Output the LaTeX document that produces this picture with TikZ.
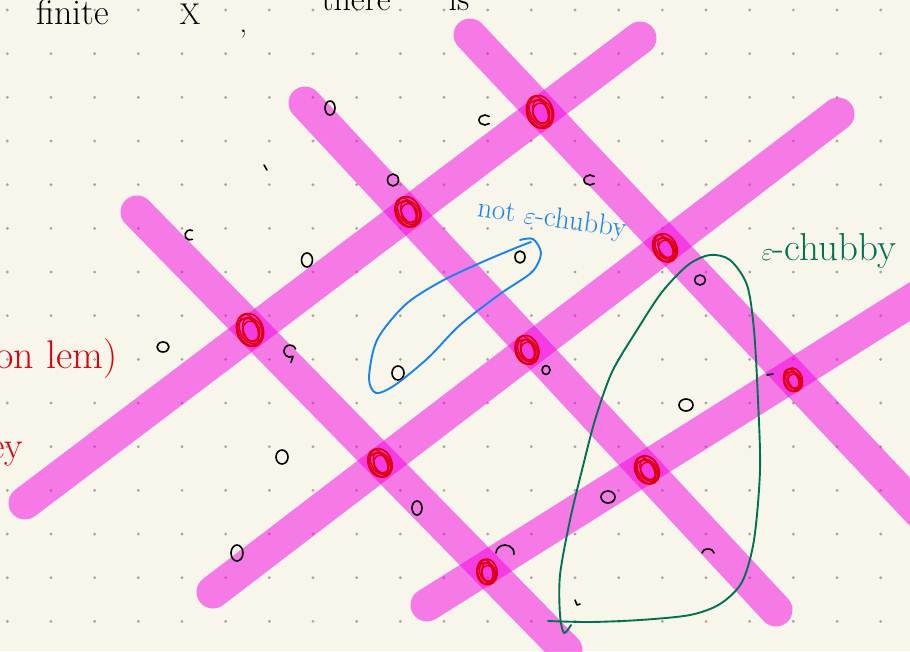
\documentclass[tikz,border=0pt]{standalone}
\definecolor{paper}{RGB}{248,246,234}
\definecolor{dotc}{RGB}{170,168,160}
\definecolor{mag}{RGB}{245,0,227}
\definecolor{scribred}{RGB}{222,0,12}
\definecolor{penblue}{RGB}{24,132,240}
\definecolor{pengreen}{RGB}{0,114,82}
\newcommand\rscrib[4]{%
  \begin{scope}[shift={(#1,#2)},rotate=#4]
    \draw[scr] (0,0) ellipse [x radius=#3*0.78, y radius=#3];
    \draw[scr] (1.4,-0.9) ellipse [x radius=#3*0.66, y radius=#3*0.92];
    \draw[scr] (-0.9,1.3) ellipse [x radius=#3*0.72, y radius=#3*0.84];
    \draw[scr] (0.4,0.3) ellipse [x radius=#3*0.42, y radius=#3*0.72];
    \draw[scr] (-1.6,-0.5) ellipse [x radius=#3*0.58, y radius=#3*0.96];
    \draw[scr] (0.8,1.5) ellipse [x radius=#3*0.5, y radius=#3*0.6];
  \end{scope}}
\begin{document}
\begin{tikzpicture}[x=1pt,y=-1pt,
  band/.style={line width=33pt, line cap=round, draw=mag, draw opacity=0.5},
  ink/.style={line width=1.6pt, line cap=round, line join=round, black},
  scr/.style={line width=1.4pt, scribred},
  blueink/.style={line width=1.9pt, line cap=round, line join=round, penblue},
  greenink/.style={line width=1.9pt, line cap=round, line join=round, pengreen},
  omark/.style={ink}]
\useasboundingbox (0,0) rectangle (910,651);
\clip (0,0) rectangle (910,651);
\fill[paper] (0,0) rectangle (910,651);
\foreach \i in {0,...,20}{\foreach \j in {0,...,14}{\fill[dotc] (7.3+43.67*\i,10+43.67*\j) circle (1.6);}}
% bands
\draw[band] (25,503) -- (640,38);
\draw[band] (213,592) -- (838,114);
\draw[band] (427,605) -- (960,270);
\draw[band] (137,212) -- (566,650);
\draw[band] (305,103) -- (776,610);
\draw[band] (470,35) -- (960,555);
% red scribbles at intersections
\rscrib{540}{112}{17}{20}
\rscrib{408}{212}{16}{25}
\rscrib{250}{330}{17}{20}
\rscrib{665}{248}{15}{30}
\rscrib{527}{350}{15}{20}
\rscrib{380}{463}{15}{25}
\rscrib{793}{380}{12}{20}
\rscrib{647}{470}{15}{30}
\rscrib{487}{572}{13}{10}
% black marks
\foreach \x/\y/\a/\b in {330/108/5/7, 393/180/5.5/6, 307/260/5.5/7, 520/257/5/6, 700/280/5.5/5, 163/347/6/5, 398/373/6/7, 686/405/7/6, 608/497/7/6, 417/508/5/7, 282/457/6/7, 237/553/6/8, 546/370/4/4.5}
  {\draw[omark] (\x,\y) ellipse [x radius=\a, y radius=\b];}
\draw[ink] (485,120) ++(45:6 and 5) arc [start angle=45, end angle=315, x radius=6, y radius=5];
\draw[ink] (590,180) ++(45:6 and 5) arc [start angle=45, end angle=315, x radius=6, y radius=5];
\draw[ink] (190,235) ++(60:5 and 5) arc [start angle=60, end angle=300, x radius=5, y radius=5];
\draw[ink] (290,347) ++(20:6 and 6) arc [start angle=-20, end angle=-300, x radius=6, y radius=6] -- ++(-2,6);
\draw[ink] (505,553) ++(180:9 and 8) arc [start angle=180, end angle=370, x radius=9, y radius=8];
\draw[ink] (708,553) ++(180:6 and 4) arc [start angle=180, end angle=360, x radius=6, y radius=4];
\draw[ink] (264,165) -- (267,170);
\draw[ink] (767,375) -- (773,374);
\draw[ink] (575,600) -- (577,605) -- (580,604);
% blue loop
\draw[blueink] plot[smooth] coordinates {(520,240) (533,239) (541,253) (532,272) (500,294) (460,325) (428,358) (395,385) (376,393) (369,378) (377,340) (405,305) (440,282) (480,263) (518,247) (531,242)};
\node[penblue, rotate=-8, anchor=base west, font=\fontsize{29}{29}\selectfont] (nc) at (473,216) {not $\varepsilon$-chubby};
% green loop
\draw[greenink] plot[smooth] coordinates {(548,621) (590,622) (640,620) (690,615) (720,604) (742,582) (754,540) (760,470) (758,400) (754,330) (747,285) (730,260) (710,255) (688,265) (662,292) (637,330) (612,372) (595,420) (582,470) (570,520) (560,575) (560,615) (564,633) (571,625)};
\node[pengreen, anchor=base west, font=\fontsize{39}{39}\selectfont] (ec) at (758,260) {$\varepsilon$-chubby};
% red left text
\node[scribred, anchor=base west, font=\fontsize{40}{40}\selectfont] (rl) at (-8,368) {on lem)};
\node[scribred, anchor=base west, font=\fontsize{38}{38}\selectfont] (re) at (-14,458) {ey};
% top text
\node[anchor=base west, font=\fontsize{36}{36}\selectfont] (t1) at (33,24) {finite};
\node[anchor=base west, font=\fontsize{30}{30}\selectfont] (t2) at (176,24) {X};
\node[anchor=base west, font=\fontsize{30}{30}\selectfont] (t3) at (236,32) {,};
\node[anchor=base west, font=\fontsize{34}{34}\selectfont] (t4) at (318,10) {there};
\node[anchor=base west, font=\fontsize{34}{34}\selectfont] (t5) at (445,10) {is};
\end{tikzpicture}
\end{document}
